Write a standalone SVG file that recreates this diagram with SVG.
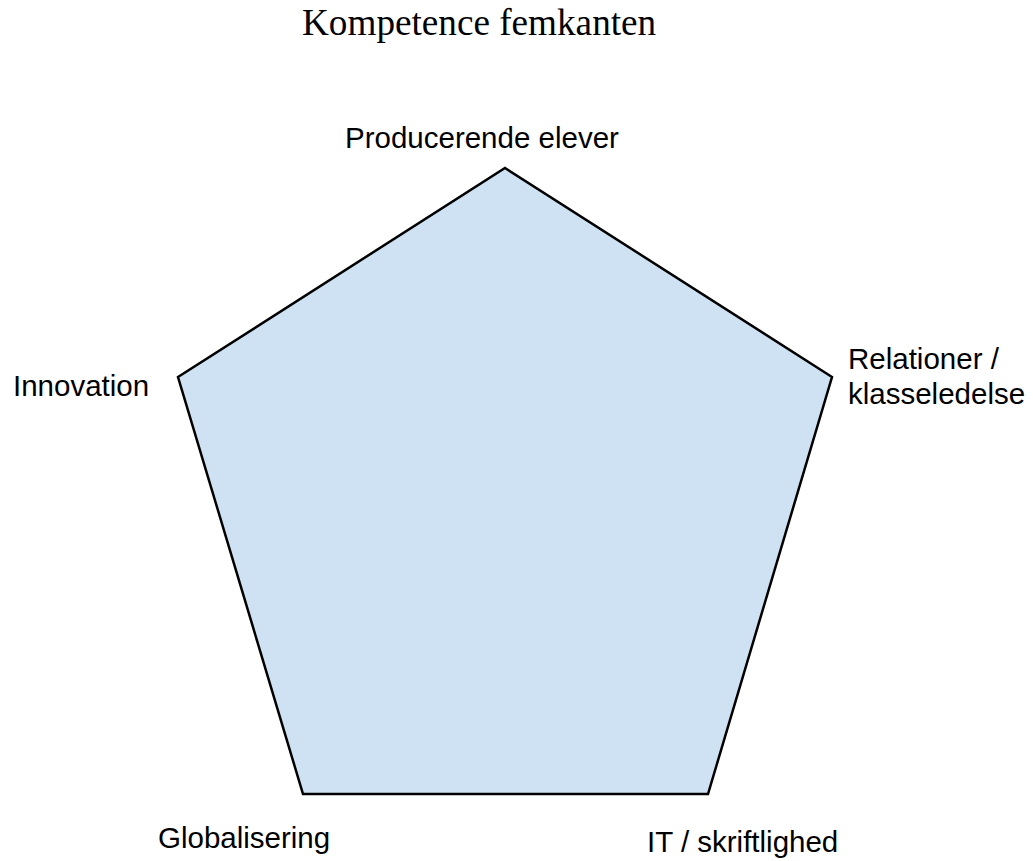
<svg xmlns="http://www.w3.org/2000/svg" width="1033" height="861" viewBox="0 0 1033 861">
  <style>
    .lbl { font-family: "Liberation Sans", Arial, sans-serif; font-size: 29.5px; fill: #000; }
    .title { font-family: "Liberation Serif", "Times New Roman", serif; font-size: 37.2px; fill: #000; }
    .shape { fill: #cfe2f3; stroke: #000; stroke-width: 2.5; stroke-linejoin: miter; }
  </style>
  <rect width="1033" height="861" fill="#fff"/>
  <g id="title">
    <text class="title" x="302" y="35">Kompetence femkanten</text>
  </g>
  <g id="pentagon">
    <polygon class="shape" points="505,168 832,377 708,794 303,794 178,377"/>
  </g>
  <g id="connectors"></g>
  <g id="node-producerende">
    <text class="lbl" x="345" y="148">Producerende elever</text>
  </g>
  <g id="node-innovation">
    <text class="lbl" x="13" y="396">Innovation</text>
  </g>
  <g id="node-relationer">
    <text class="lbl" x="848" y="369">Relationer /</text>
    <text class="lbl" x="848" y="404">klasseledelse</text>
  </g>
  <g id="node-globalisering">
    <text class="lbl" x="158" y="848">Globalisering</text>
  </g>
  <g id="node-it">
    <text class="lbl" x="647" y="852">IT / skriftlighed</text>
  </g>
</svg>
